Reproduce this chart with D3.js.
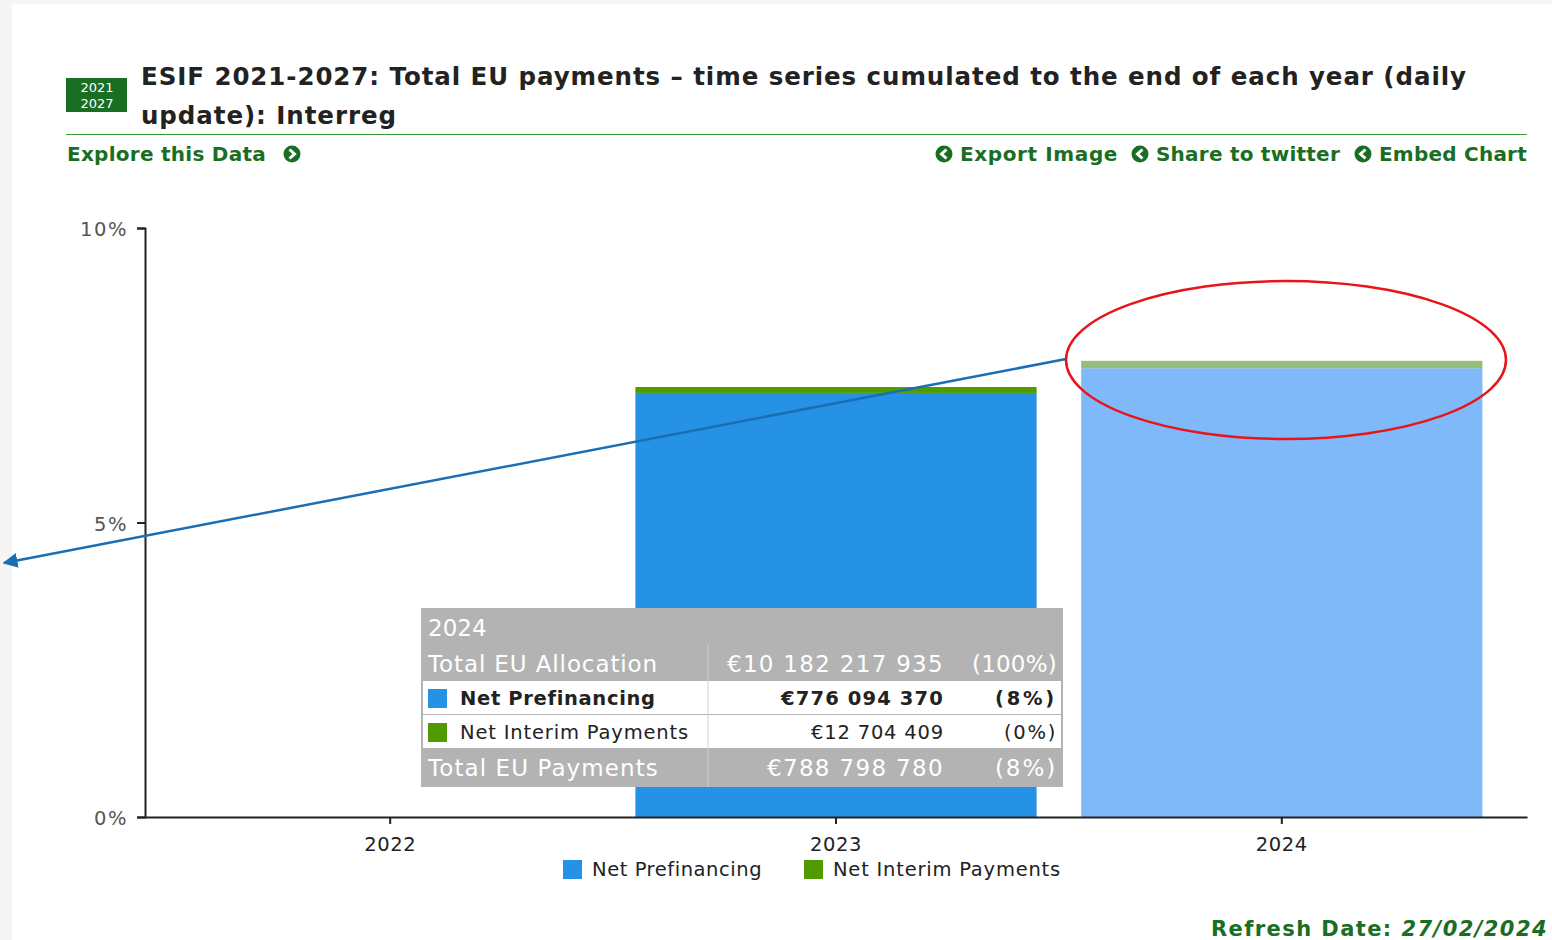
<!DOCTYPE html>
<html>
<head>
<meta charset="utf-8">
<script src="https://cdn.jsdelivr.net/npm/d3@7"></script>
<style>
  html, body { margin: 0; padding: 0; background: #f5f5f5; }
  svg { display: block; font-family: Verdana, "DejaVu Sans", sans-serif; }
</style>
</head>
<body>
<div id="chart"></div>
<script>
// data
const years = ["2022", "2023", "2024"];
const prefinancing = [0, 7.20, 7.62];   // % of total EU allocation
const interim = [0, 0.10, 0.125];
const seriesNames = ["Net Prefinancing", "Net Interim Payments"];
const yTicks = [0, 5, 10];
const tooltipRows = [
  ["Total EU Allocation", "€10 182 217 935", "(100%)"],
  ["Net Prefinancing", "€776 094 370", "(8%)"],
  ["Net Interim Payments", "€12 704 409", "(0%)"],
  ["Total EU Payments", "€788 798 780", "(8%)"]
];
const highlighted = "2024";

const W = 1552, H = 940;
const green = "#1a6e23";
const colors = { pre: "#2692e6", preHi: "#80b9fa", int: "#519b00", intHi: "#93bf7a" };

// DejaVu is narrower than Verdana: widen a text to the width seen in the reference
function fit(sel, target) {
  const node = sel.node();
  const w = node.getComputedTextLength();
  const n = node.textContent.length;
  if (n > 1 && target > w) sel.attr("letter-spacing", ((target - w) / n).toFixed(2));
  return sel;
}

const svg = d3.select("#chart").append("svg").attr("width", W).attr("height", H);
svg.append("rect").attr("x", 12).attr("y", 4).attr("width", W - 12).attr("height", H - 4).attr("fill", "#fff");

// header
const badge = svg.append("g").attr("transform", "translate(66,78)");
badge.append("rect").attr("width", 61).attr("height", 34).attr("fill", green);
badge.append("text").attr("x", 31).attr("y", 14).attr("text-anchor", "middle").attr("fill", "#fff").attr("font-size", 13).text("2021");
badge.append("text").attr("x", 31).attr("y", 30).attr("text-anchor", "middle").attr("fill", "#fff").attr("font-size", 13).text("2027");

fit(svg.append("text").attr("x", 141).attr("y", 85).attr("font-size", 24.5).attr("font-weight", "bold").attr("fill", "#222")
  .text("ESIF 2021-2027: Total EU payments – time series cumulated to the end of each year (daily"), 1326);
fit(svg.append("text").attr("x", 141).attr("y", 124).attr("font-size", 24.5).attr("font-weight", "bold").attr("fill", "#222")
  .text("update): Interreg"), 256);
svg.append("line").attr("x1", 66).attr("x2", 1527).attr("y1", 134.5).attr("y2", 134.5).attr("stroke", "#3a9a3a").attr("stroke-width", 1);

function circleIcon(cx, cy, dir) {
  const g = svg.append("g").attr("transform", `translate(${cx},${cy})`);
  g.append("circle").attr("r", 8.5).attr("fill", green);
  const d = dir > 0 ? "M-2.5,-4.5 L2.5,0 L-2.5,4.5" : "M2.5,-4.5 L-2.5,0 L2.5,4.5";
  g.append("path").attr("d", d).attr("fill", "none").attr("stroke", "#fff").attr("stroke-width", 3);
}
fit(svg.append("text").attr("x", 67).attr("y", 161).attr("font-size", 20).attr("font-weight", "bold").attr("fill", green).text("Explore this Data"), 199);
circleIcon(292, 154, 1);

const links = [["Embed Chart", 1527, 148], ["Share to twitter", 1340, 184], ["Export Image", 1118, 158]];
links.forEach(([t, xr, tw]) => {
  const txt = fit(svg.append("text").attr("x", xr).attr("y", 161).attr("text-anchor", "end")
    .attr("font-size", 20).attr("font-weight", "bold").attr("fill", green).text(t), tw);
  circleIcon(xr - tw - 16, 154, -1);
});

// chart
const x = d3.scaleBand().domain(years).range([145, 1527]).padding(0.1);
const y = d3.scaleLinear().domain([0, 10]).range([817, 228]);

const bars = svg.append("g");
years.forEach((yr, i) => {
  const hi = yr === highlighted;
  if (prefinancing[i] > 0) {
    bars.append("rect").attr("x", x(yr)).attr("width", x.bandwidth())
      .attr("y", y(prefinancing[i])).attr("height", y(0) - y(prefinancing[i]))
      .attr("fill", hi ? colors.preHi : colors.pre);
  }
  if (interim[i] > 0) {
    const top = prefinancing[i] + interim[i];
    bars.append("rect").attr("x", x(yr)).attr("width", x.bandwidth())
      .attr("y", y(top)).attr("height", y(prefinancing[i]) - y(top))
      .attr("fill", hi ? colors.intHi : colors.int);
  }
});

const yAxis = svg.append("g").attr("transform", "translate(145,0)")
  .call(d3.axisLeft(y).tickValues(yTicks).tickFormat(d => d + "%").tickSize(8).tickSizeOuter(8));
yAxis.select(".domain").attr("stroke", "#222").attr("stroke-width", 2);
yAxis.selectAll(".tick line").attr("stroke", "#222").attr("stroke-width", 2);
yAxis.selectAll(".tick text").attr("font-size", 19.5).attr("fill", "#555").attr("x", -17).attr("dy", "0.4em")
  .attr("font-family", "Verdana, 'DejaVu Sans', sans-serif")
  .each(function (d) { fit(d3.select(this), d === 10 ? 48 : 34); });

const xAxis = svg.append("g").attr("transform", "translate(0,817)")
  .call(d3.axisBottom(x).tickSize(7).tickSizeOuter(0));
xAxis.select(".domain").attr("stroke", "#222").attr("stroke-width", 2);
xAxis.selectAll(".tick line").attr("stroke", "#222").attr("stroke-width", 2);
xAxis.selectAll(".tick text").attr("font-size", 19.5).attr("fill", "#222").attr("y", 20)
  .attr("font-family", "Verdana, 'DejaVu Sans', sans-serif")
  .each(function () { fit(d3.select(this), 52); });

// legend
const legend = svg.append("g");
[[563, colors.pre, seriesNames[0], 170], [804, colors.int, seriesNames[1], 228]].forEach(([lx, c, t, tw]) => {
  legend.append("rect").attr("x", lx).attr("y", 860).attr("width", 19).attr("height", 19).attr("fill", c);
  fit(legend.append("text").attr("x", lx + 29).attr("y", 876).attr("font-size", 19.5).attr("fill", "#222").text(t), tw);
});

// tooltip
const tt = svg.append("g").attr("transform", "translate(421,608)");
const ttW = 642, colX = 287, valX = 523, pctX = 636;
tt.append("rect").attr("width", ttW).attr("height", 179).attr("fill", "#b3b3b3");
tt.append("text").attr("x", 7).attr("y", 28).attr("font-size", 23).attr("fill", "#fff").text(highlighted);
const rowY = [37, 73, 107, 141];
const rowH = [36, 34, 34, 38];
const labelW = [230, 195, 229, 231];
const valW = [217, 163, 133, 177];
const pctW = [85, 62, 53, 62];
tooltipRows.forEach((r, i) => {
  const white = i === 1 || i === 2;
  const g = tt.append("g").attr("transform", `translate(0,${rowY[i]})`);
  if (white) g.append("rect").attr("x", 2).attr("width", ttW - 4).attr("height", rowH[i] - 1).attr("fill", "#fff");
  g.append("line").attr("x1", colX).attr("x2", colX).attr("y1", 0).attr("y2", rowH[i]).attr("stroke", "#d0d0d0");
  const fs = white ? 19.5 : 23;
  const fill = white ? "#222" : "#fff";
  const fw = i === 1 ? "bold" : "normal";
  const ty = white ? 24 : 27;
  let tx = 7;
  if (white) {
    g.append("rect").attr("x", 7).attr("y", 8).attr("width", 19).attr("height", 19)
      .attr("fill", i === 1 ? colors.pre : colors.int);
    tx = 39;
  }
  fit(g.append("text").attr("x", tx).attr("y", ty).attr("font-size", fs).attr("font-weight", fw).attr("fill", fill).text(r[0]), labelW[i]);
  fit(g.append("text").attr("x", valX).attr("y", ty).attr("text-anchor", "end").attr("font-size", fs).attr("font-weight", fw).attr("fill", fill).text(r[1]), valW[i]);
  fit(g.append("text").attr("x", pctX).attr("y", ty).attr("text-anchor", "end").attr("font-size", fs).attr("font-weight", fw).attr("fill", fill).text(r[2]), pctW[i]);
});

// annotations
svg.append("defs").append("marker").attr("id", "arrow").attr("viewBox", "0 0 10 10")
  .attr("refX", 9).attr("refY", 5).attr("markerWidth", 6).attr("markerHeight", 6)
  .attr("markerUnits", "strokeWidth").attr("orient", "auto")
  .append("path").attr("d", "M0,0 L10,5 L0,10 z").attr("fill", "#1a6eb5");
svg.append("line").attr("x1", 1066).attr("y1", 359).attr("x2", 4).attr("y2", 563)
  .attr("stroke", "#1a6eb5").attr("stroke-width", 2.5).attr("marker-end", "url(#arrow)");
svg.append("ellipse").attr("cx", 1286).attr("cy", 360).attr("rx", 220).attr("ry", 79)
  .attr("fill", "none").attr("stroke", "#e8141a").attr("stroke-width", 2.5);

// footer
const refresh = svg.append("text").attr("x", 1548).attr("y", 936).attr("text-anchor", "end").attr("font-size", 21).attr("font-weight", "bold").attr("fill", green)
  .html('Refresh Date: <tspan font-style="italic">27/02/2024</tspan>');
fit(refresh, 337);
</script>
</body>
</html>
